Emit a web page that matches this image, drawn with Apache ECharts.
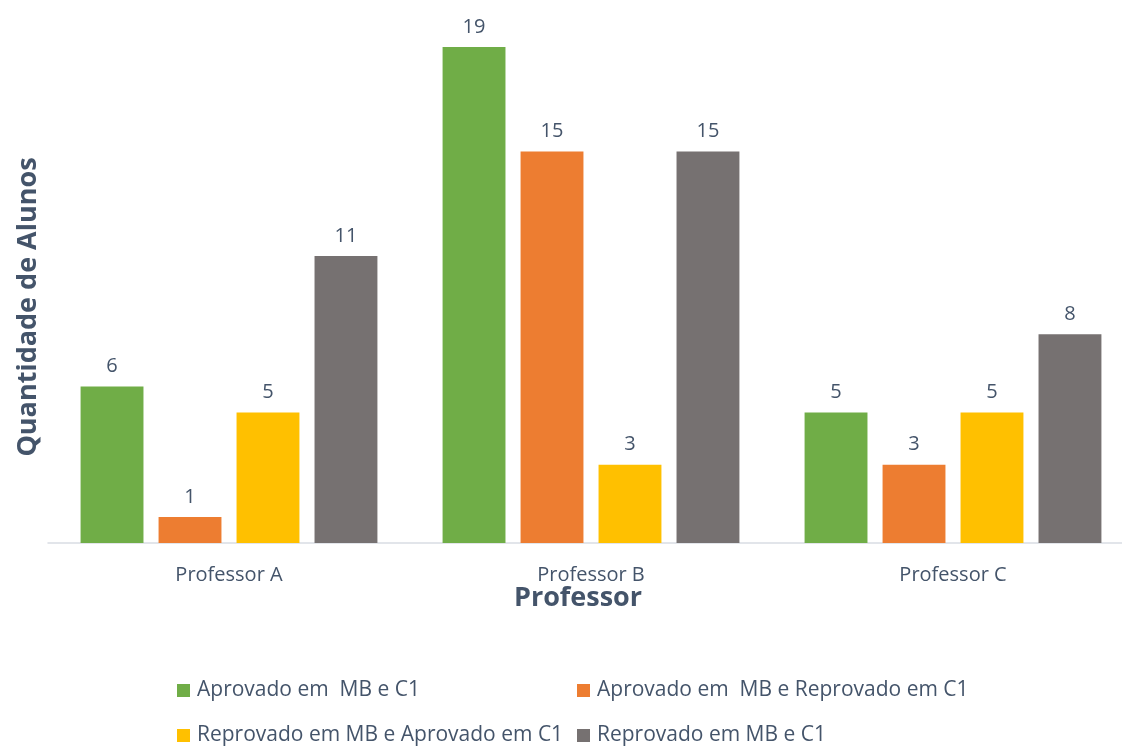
<!DOCTYPE html>
<html>
<head>
<meta charset="utf-8">
<script src="https://cdn.jsdelivr.net/npm/echarts@6/dist/echarts.min.js"></script>
<style>
html,body{margin:0;padding:0;background:#fff;overflow:hidden;}
#chart{width:1134px;height:747px;}
</style>
</head>
<body>
<div id="chart"></div>
<script>
const categories = ['Professor A', 'Professor B', 'Professor C'];
const seriesNames = ['Aprovado em  MB e C1', 'Aprovado em  MB e Reprovado em C1', 'Reprovado em MB e Aprovado em C1', 'Reprovado em MB e C1'];
const aprovadoAmbos = [6, 19, 5];
const aprovadoMBReprovadoC1 = [1, 15, 3];
const reprovadoMBAprovadoC1 = [5, 3, 5];
const reprovadoAmbos = [11, 15, 8];
const colors = ['#70ad47', '#ed7d31', '#ffc000', '#767171'];
const values = [aprovadoAmbos, aprovadoMBReprovadoC1, reprovadoMBAprovadoC1, reprovadoAmbos];
const xTitle = 'Professor';
const yTitle = 'Quantidade de Alunos';

const font = '"Open Sans", sans-serif';
const textColor = '#44546a';
const legendPos = [[177, 680], [577, 680], [177, 725], [577, 725]];

const chart = echarts.init(document.getElementById('chart'));
chart.setOption({
  animation: false,
  textStyle: { fontFamily: font },
  grid: { left: 48, right: 0, top: 21, height: 522 },
  legend: seriesNames.map((n, i) => ({
    data: [n], left: legendPos[i][0], top: legendPos[i][1], itemWidth: 13, itemHeight: 13, itemGap: 0,
    icon: 'rect', padding: 0,
    textStyle: { fontSize: 21, color: textColor, fontFamily: font, padding: [0, 0, 0, 2] }
  })),
  xAxis: {
    type: 'category', data: categories,
    axisLine: { lineStyle: { color: '#d9dde3', width: 1.5 } },
    axisTick: { show: false },
    axisLabel: { fontSize: 20, color: textColor, margin: 22, fontFamily: font }
  },
  yAxis: {
    type: 'value', min: 0, max: 20, interval: 5,
    axisLine: { show: false }, axisTick: { show: false }, axisLabel: { show: false },
    splitLine: { show: false }
  },
  graphic: [{
    type: 'text', x: 28, y: 307, rotation: Math.PI / 2,
    style: { text: yTitle, fontSize: 27, fontWeight: 'bold', fill: textColor, fontFamily: font,
      textAlign: 'center', textVerticalAlign: 'middle' }
  }, {
    type: 'text', x: 578, y: 598,
    style: { text: xTitle, fontSize: 27, fontWeight: 'bold', fill: textColor, fontFamily: font,
      textAlign: 'center', textVerticalAlign: 'middle' }
  }],
  series: seriesNames.map((n, i) => ({
    name: n, type: 'bar', data: values[i],
    itemStyle: { color: colors[i] },
    barGap: '24%', barCategoryGap: '18%',
    label: { show: true, position: 'top', distance: 10, fontSize: 20, color: textColor, fontFamily: font }
  }))
});
</script>
</body>
</html>
